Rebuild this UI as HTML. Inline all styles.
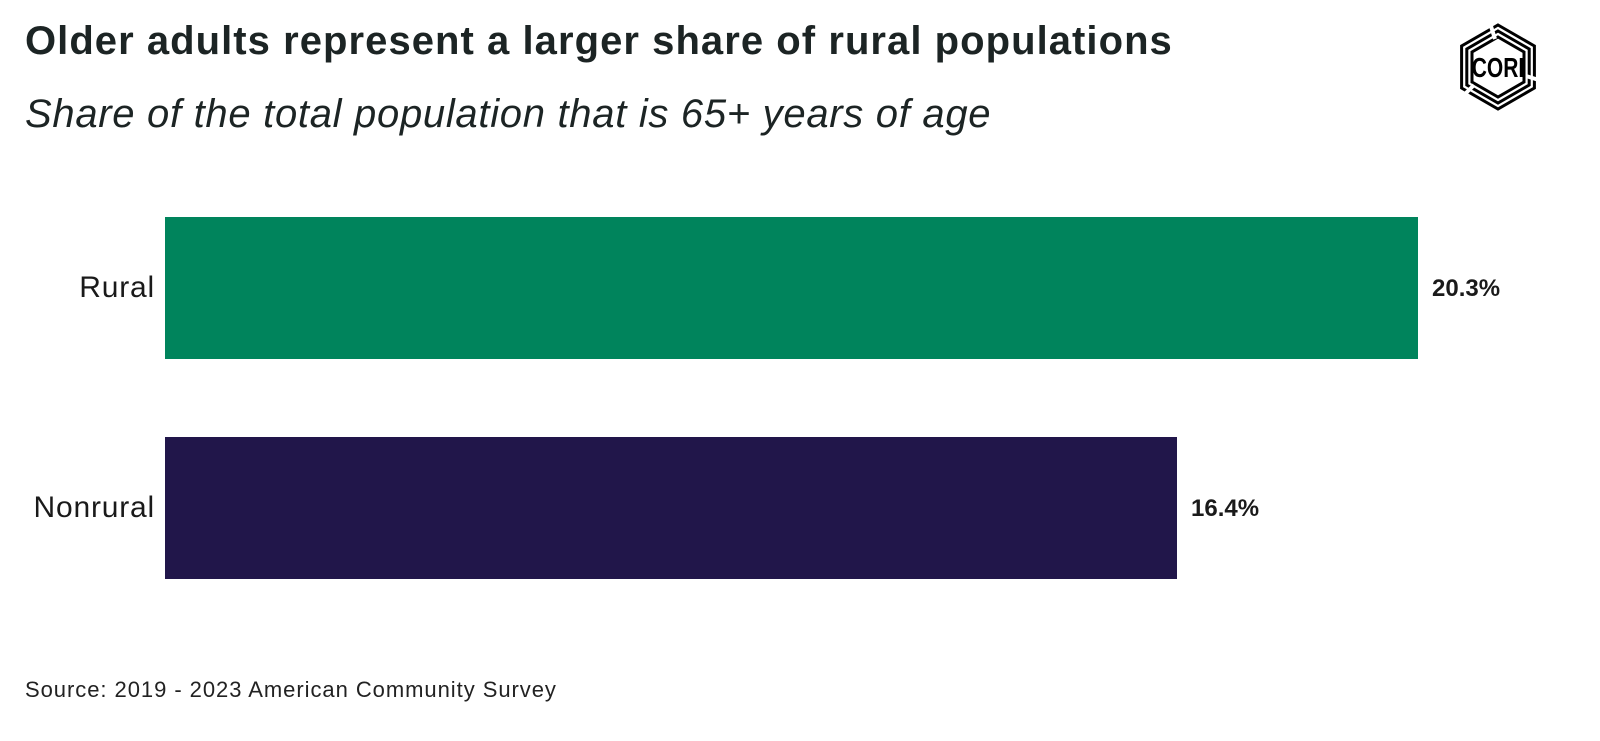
<!DOCTYPE html>
<html><head><style>
body{margin:0;width:1600px;height:741px;background:#fff;position:relative;overflow:hidden;font-family:"Liberation Sans",sans-serif;color:#1a1a1a}
div{position:absolute;white-space:nowrap}
</style></head><body>
<div style="left:25px;top:19px;font-size:40px;font-weight:bold;color:#1c2424;letter-spacing:1.05px">Older adults represent a larger share of rural populations</div>
<div style="left:25px;top:92px;font-size:40px;font-style:italic;color:#1c2424;letter-spacing:0.7px">Share of the total population that is 65+ years of age</div>
<div style="left:165px;top:217px;width:1253px;height:142px;background:#00845c"></div>
<div style="left:165px;top:437px;width:1012px;height:142px;background:#21164a"></div>
<div style="right:1445px;top:271px;font-size:30px;letter-spacing:0.8px">Rural</div>
<div style="right:1445px;top:491px;font-size:30px;letter-spacing:0.8px">Nonrural</div>
<div style="left:1432px;top:275px;font-size:24px;font-weight:bold">20.3%</div>
<div style="left:1191px;top:495px;font-size:24px;font-weight:bold">16.4%</div>
<div style="left:25px;top:677px;font-size:22px;color:#222;letter-spacing:0.95px">Source: 2019 - 2023 American Community Survey</div>
<svg style="position:absolute;left:1453px;top:22px" width="90" height="90" viewBox="-45 -45 90 90">
<g fill="none" stroke="#000" stroke-width="3">
<polygon points="0,-42 36.4,-21 36.4,21 0,42 -36.4,21 -36.4,-21"/>
<polygon points="0,-36 31.2,-18 31.2,18 0,36 -31.2,18 -31.2,-18"/>
<polygon points="0,-30 26,-15 26,15 0,30 -26,15 -26,-15"/>
</g>
<g stroke="#fff" stroke-width="4">
<line x1="-8" y1="-44" x2="-3" y2="-28"/><line x1="44" y1="14" x2="28" y2="9"/><line x1="-36" y1="30" x2="-24" y2="18"/>
</g>
<text x="0" y="10" text-anchor="middle" font-family="Liberation Sans" font-weight="bold" font-size="28" transform="scale(0.75,1)">CORI</text>
</svg>
</body></html>
